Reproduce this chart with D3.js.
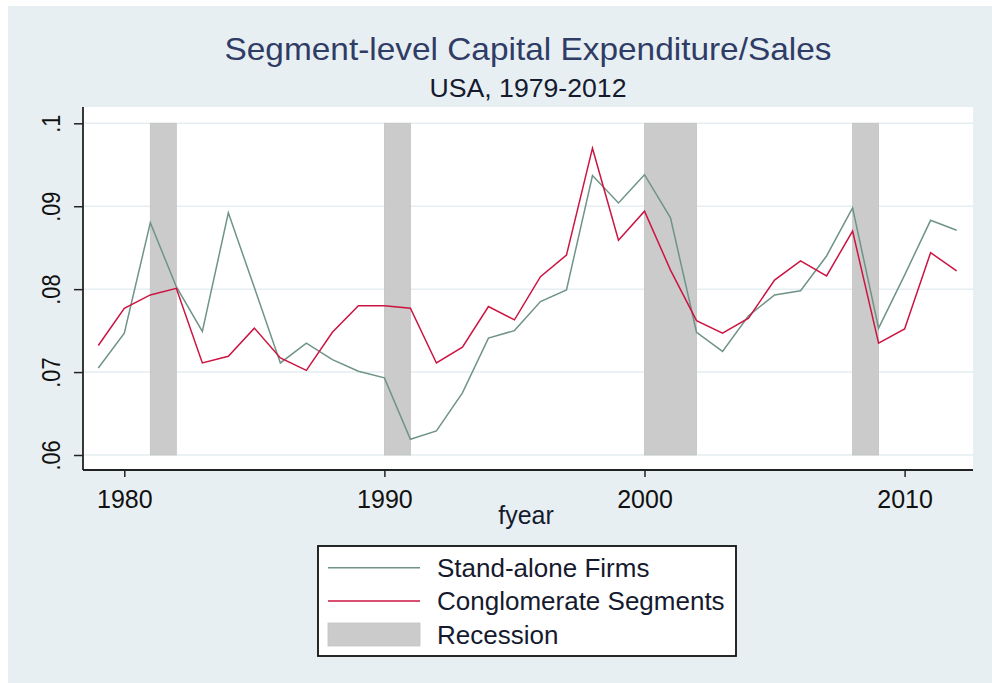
<!DOCTYPE html>
<html>
<head>
<meta charset="utf-8">
<script src="https://cdn.jsdelivr.net/npm/d3@7"></script>
<style>
  html, body { margin: 0; padding: 0; background: #ffffff; }
  svg { display: block; font-family: "Liberation Sans", Arial, sans-serif; }
</style>
</head>
<body>
<div id="chart"></div>
<script>
// Segment-level capex/sales, values
const years = [1979, 1980, 1981, 1982, 1983, 1984, 1985, 1986, 1987, 1988, 1989,
               1990, 1991, 1992, 1993, 1994, 1995, 1996, 1997, 1998, 1999, 2000,
               2001, 2002, 2003, 2004, 2005, 2006, 2007, 2008, 2009, 2010, 2011, 2012];

const standAlone = [0.0705, 0.0747, 0.0880, 0.0803, 0.0749, 0.0892, 0.0802, 0.0711, 0.0735, 0.0715, 0.0701,
                    0.0693, 0.0619, 0.0629, 0.0675, 0.0741, 0.0750, 0.0785, 0.0799, 0.0937, 0.0904, 0.0938,
                    0.0886, 0.0748, 0.0725, 0.0768, 0.0793, 0.0798, 0.0840, 0.0898, 0.0753, 0.0817, 0.0883, 0.0871];

const conglomerate = [0.0732, 0.0777, 0.0793, 0.0801, 0.0711, 0.0719, 0.0753, 0.0717, 0.0702, 0.0748, 0.0780,
                      0.0780, 0.0777, 0.0711, 0.0730, 0.0779, 0.0763, 0.0815, 0.0841, 0.0970, 0.0859, 0.0894,
                      0.0823, 0.0762, 0.0747, 0.0765, 0.0811, 0.0834, 0.0816, 0.0870, 0.0735, 0.0752, 0.0844, 0.0822];

const recessions = [[1981, 1982], [1990, 1991], [2000, 2002], [2008, 2009]];

const xTicks = [1980, 1990, 2000, 2010];
const yTicks = [0.06, 0.07, 0.08, 0.09, 0.1];
const yTickLabels = ['.06', '.07', '.08', '.09', '.1'];

const legendItems = ['Stand-alone Firms', 'Conglomerate Segments', 'Recession'];

const width = 992;
const height = 683;

const colStand = '#6f9487';
const colCong = '#cc1442';
const colRec = '#cbcbcb';
const bgOuter = '#e8eff2';
const gridCol = '#e5eef1';

const svg = d3.select('#chart')
    .append('svg')
    .attr('width', width)
    .attr('height', height);

// graph region
svg.append('rect')
    .attr('x', 8).attr('y', 6)
    .attr('width', width - 8).attr('height', height - 6)
    .attr('fill', bgOuter);

// plot region
const plot = { left: 83, right: 973, top: 107, bottom: 470 };
svg.append('rect')
    .attr('x', plot.left).attr('y', plot.top)
    .attr('width', plot.right - plot.left).attr('height', plot.bottom - plot.top)
    .attr('fill', '#ffffff');

const x = d3.scaleLinear().domain([1980, 2010]).range([124.3, 904.6]);
const y = d3.scaleLinear().domain([0.06, 0.1]).range([455, 123.3]);

// recession bars
svg.selectAll('.rec')
    .data(recessions)
    .enter()
    .append('rect')
    .attr('class', 'rec')
    .attr('x', d => x(d[0]))
    .attr('y', y(0.1))
    .attr('width', d => x(d[1]) - x(d[0]))
    .attr('height', y(0.06) - y(0.1))
    .attr('fill', colRec)
    .attr('stroke', '#c2c2c2')
    .attr('stroke-width', 0.8);

// grid lines sit behind the bars
const gridG = svg.insert('g', '.rec');
gridG.selectAll('line')
    .data(yTicks)
    .enter()
    .append('line')
    .attr('x1', plot.left).attr('x2', plot.right)
    .attr('y1', d => y(d)).attr('y2', d => y(d))
    .attr('stroke', gridCol)
    .attr('stroke-width', 1.5);

// series
const line = d3.line()
    .x((d, i) => x(years[i]))
    .y(d => y(d));

svg.append('path')
    .datum(standAlone)
    .attr('d', line)
    .attr('fill', 'none')
    .attr('stroke', colStand)
    .attr('stroke-width', 1.5);

svg.append('path')
    .datum(conglomerate)
    .attr('d', line)
    .attr('fill', 'none')
    .attr('stroke', colCong)
    .attr('stroke-width', 1.5);

// axes
const xAxis = d3.axisBottom(x)
    .tickValues(xTicks)
    .tickFormat(d3.format('d'))
    .tickSizeOuter(0)
    .tickSize(7)
    .tickPadding(12);

const gx = svg.append('g')
    .attr('transform', `translate(0, ${plot.bottom})`)
    .call(xAxis);
gx.select('.domain').remove();
gx.append('line')
    .attr('x1', plot.left).attr('x2', plot.right)
    .attr('stroke', '#222').attr('stroke-width', 1.8);
gx.selectAll('.tick line').attr('stroke', '#222').attr('stroke-width', 1.5);
gx.selectAll('.tick text')
    .attr('font-size', 25)
    .attr('fill', '#111')
    .attr('font-family', '"Liberation Sans", Arial, sans-serif')
    .attr('dy', null)
    .attr('y', 37.5);

const yAxis = d3.axisLeft(y)
    .tickValues(yTicks)
    .tickFormat((d, i) => yTickLabels[i])
    .tickSizeOuter(0)
    .tickSize(9);

const gy = svg.append('g')
    .attr('transform', `translate(${plot.left}, 0)`)
    .call(yAxis);
gy.select('.domain').remove();
gy.append('line')
    .attr('y1', plot.top).attr('y2', plot.bottom)
    .attr('stroke', '#222').attr('stroke-width', 1.8);
gy.selectAll('.tick line').attr('stroke', '#222').attr('stroke-width', 1.5);
gy.selectAll('.tick text')
    .attr('font-size', 25)
    .attr('fill', '#111')
    .attr('font-family', '"Liberation Sans", Arial, sans-serif')
    .attr('text-anchor', 'middle')
    .attr('x', null).attr('dy', null)
    .attr('transform', 'translate(-23, 0) rotate(-90)')
    .each(function() {
        const w = this.getComputedTextLength();
        d3.select(this)
            .attr('textLength', w * 0.87)
            .attr('lengthAdjust', 'spacingAndGlyphs');
    });

// titles
const cx = (plot.left + plot.right) / 2;
svg.append('text')
    .attr('x', cx).attr('y', 60)
    .attr('text-anchor', 'middle')
    .attr('font-size', 32)
    .attr('fill', '#2f3c66')
    .attr('textLength', 607)
    .attr('lengthAdjust', 'spacingAndGlyphs')
    .text('Segment-level Capital Expenditure/Sales');

svg.append('text')
    .attr('x', cx).attr('y', 96.5)
    .attr('text-anchor', 'middle')
    .attr('font-size', 26)
    .attr('fill', '#151a2e')
    .attr('textLength', 197)
    .attr('lengthAdjust', 'spacingAndGlyphs')
    .text('USA, 1979-2012');

svg.append('text')
    .attr('x', 526).attr('y', 524)
    .attr('text-anchor', 'middle')
    .attr('font-size', 25)
    .attr('fill', '#151a2e')
    .text('fyear');

// legend
const lg = svg.append('g');
lg.append('rect')
    .attr('x', 318).attr('y', 546)
    .attr('width', 418).attr('height', 110)
    .attr('fill', '#ffffff')
    .attr('stroke', '#111')
    .attr('stroke-width', 1.8);

const legendY = [567.7, 601, 634.5];
lg.append('line')
    .attr('x1', 328).attr('x2', 420)
    .attr('y1', legendY[0]).attr('y2', legendY[0])
    .attr('stroke', colStand).attr('stroke-width', 1.5);
lg.append('line')
    .attr('x1', 328).attr('x2', 420)
    .attr('y1', legendY[1]).attr('y2', legendY[1])
    .attr('stroke', colCong).attr('stroke-width', 1.5);
lg.append('rect')
    .attr('x', 328).attr('y', 623)
    .attr('width', 92).attr('height', 23)
    .attr('fill', colRec)
    .attr('stroke', '#c2c2c2')
    .attr('stroke-width', 0.8);

lg.selectAll('.leg-text')
    .data(legendItems)
    .enter()
    .append('text')
    .attr('class', 'leg-text')
    .attr('x', 437)
    .attr('y', (d, i) => legendY[i] + 9)
    .attr('font-size', 26)
    .attr('fill', '#151a2e')
    .text(d => d);
</script>
</body>
</html>
